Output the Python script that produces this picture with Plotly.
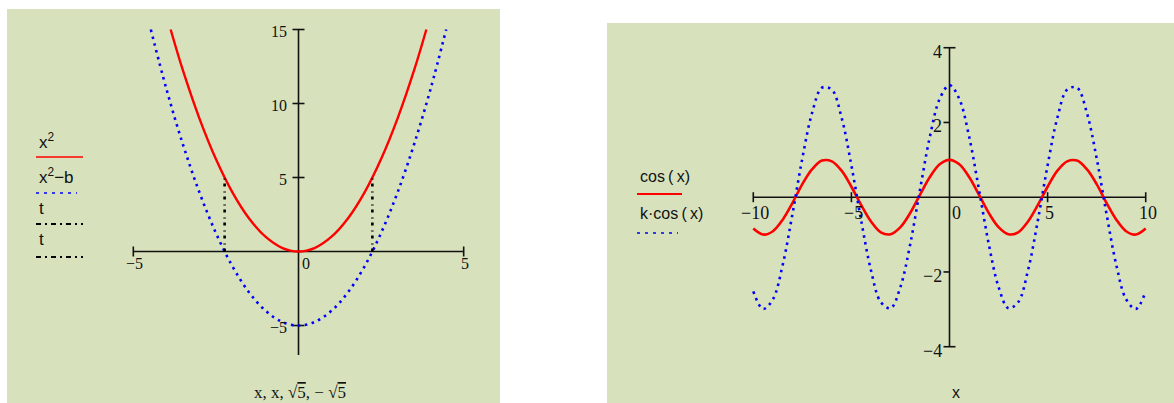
import plotly.graph_objects as go

# ---------------- data ----------------
# left panel: x^2, x^2 - b (b = 5), and two vertical markers at ±sqrt(5)
x_sq = [-3.87, -3.5, -3.0, -2.5, -2.0, -1.5, -1.0, -0.5, 0.0, 0.5, 1.0, 1.5, 2.0, 2.5, 3.0, 3.5, 3.87]
y_sq = [15.0, 12.25, 9.0, 6.25, 4.0, 2.25, 1.0, 0.25, 0.0, 0.25, 1.0, 2.25, 4.0, 6.25, 9.0, 12.25, 15.0]
x_sqb = [-4.47, -4.0, -3.5, -3.0, -2.5, -2.0, -1.5, -1.0, -0.5, 0.0, 0.5, 1.0, 1.5, 2.0, 2.5, 3.0, 3.5, 4.0, 4.47]
y_sqb = [15.0, 11.0, 7.25, 4.0, 1.25, -1.0, -2.75, -4.0, -4.75, -5.0, -4.75, -4.0, -2.75, -1.0, 1.25, 4.0, 7.25, 11.0, 15.0]
t_vals = [0.0, 5.0]
x_root_pos = [2.236, 2.236]
x_root_neg = [-2.236, -2.236]

left_xticks = [-5, 5]
left_xlabels = ["\u22125", "5"]
left_zero_label = "0"
left_yticks = [-5, 5, 10, 15]
left_ylabels = ["\u22125", "5", "10", "15"]
left_xaxis_span = [-5, 5]
left_yaxis_span = [-7, 15]

# right panel: cos(x) and k*cos(x) (k = 3)
x_cos = [-10.0, -9.5, -9.0, -8.5, -8.0, -7.5, -7.0, -6.5, -6.0, -5.5, -5.0, -4.5, -4.0, -3.5, -3.0, -2.5, -2.0,
         -1.5, -1.0, -0.5, 0.0, 0.5, 1.0, 1.5, 2.0, 2.5, 3.0, 3.5, 4.0, 4.5, 5.0, 5.5, 6.0, 6.5, 7.0, 7.5,
         8.0, 8.5, 9.0, 9.5, 10.0]
y_cos = [-0.84, -1.0, -0.91, -0.6, -0.15, 0.35, 0.75, 0.98, 0.96, 0.71, 0.28, -0.21, -0.65, -0.94, -0.99, -0.8, -0.42,
         0.07, 0.54, 0.88, 1.0, 0.88, 0.54, 0.07, -0.42, -0.8, -0.99, -0.94, -0.65, -0.21, 0.28, 0.71, 0.96, 0.98,
         0.75, 0.35, -0.15, -0.6, -0.91, -1.0, -0.84]
y_kcos = [-2.52, -2.99, -2.73, -1.81, -0.44, 1.04, 2.26, 2.93, 2.88, 2.13, 0.85, -0.63, -1.96, -2.81, -2.97, -2.4, -1.25,
          0.21, 1.62, 2.63, 3.0, 2.63, 1.62, 0.21, -1.25, -2.4, -2.97, -2.81, -1.96, -0.63, 0.85, 2.13, 2.88, 2.93,
          2.26, 1.04, -0.44, -1.81, -2.73, -2.99, -2.52]

right_xticks = [-10, -5, 5, 10]
right_xlabels = ["\u221210", "\u22125", "5", "10"]
right_zero_label = "0"
right_yticks = [-4, -2, 2, 4]
right_ylabels = ["\u22124", "\u22122", "2", "4"]
right_xaxis_span = [-10, 10]
right_yaxis_span = [-4, 4]

left_legend = ["x<sup>2</sup>", "x<sup>2</sup>\u2212b", "t", "t"]
right_legend = ["cos\u2009(\u2009x)", "k\u00b7cos\u2009(\u2009x)"]
left_title = "x, x, \u221a<span style='text-decoration:overline'>5</span>, \u2212 \u221a<span style='text-decoration:overline'>5</span>"
right_title = "x"

# ---------------- styling ----------------
W, H = 1174, 403
BG = "#d7e2bd"
RED = "#ff0000"
BLUE = "#0000ff"
INK = "#111111"
SERIF = "Liberation Serif"
SANS = "Liberation Sans"


def px(x):
    return x / W


def py(y):
    return 1 - y / H


fig = go.Figure()

# left panel curves
fig.add_trace(go.Scatter(x=x_sq, y=y_sq, mode="lines", line=dict(color=RED, width=2.4, shape="spline"),
                         xaxis="x", yaxis="y", showlegend=False))
fig.add_trace(go.Scatter(x=x_sqb, y=y_sqb, mode="lines",
                         line=dict(color=BLUE, width=2.6, dash="2.5px,4.5px", shape="spline"),
                         xaxis="x", yaxis="y", showlegend=False))
fig.add_trace(go.Scatter(x=x_root_pos, y=t_vals, mode="lines",
                         line=dict(color="black", width=2.6, dash="3px,4px,1px,5px"),
                         xaxis="x", yaxis="y", showlegend=False))
fig.add_trace(go.Scatter(x=x_root_neg, y=t_vals, mode="lines",
                         line=dict(color="black", width=2.6, dash="3px,4px,1px,5px"),
                         xaxis="x", yaxis="y", showlegend=False))

# right panel curves
fig.add_trace(go.Scatter(x=x_cos, y=y_cos, mode="lines", line=dict(color=RED, width=2.6, shape="spline"),
                         xaxis="x2", yaxis="y2", showlegend=False))
fig.add_trace(go.Scatter(x=x_cos, y=y_kcos, mode="lines",
                         line=dict(color=BLUE, width=2.6, dash="2.5px,4.5px", shape="spline"),
                         xaxis="x2", yaxis="y2", showlegend=False))

shapes = []
annotations = []


def add_axes(xr, yr, xspan, yspan, xticks, xlabels, yticks, ylabels, zero_label, tick_font,
             xlab_shift, xlab_yshift, ylab_xshift, ylab_yshift, zero_xshift, inner_left_only):
    # axis lines through the origin
    shapes.append(dict(type="line", xref=xr, yref=yr, x0=xspan[0], x1=xspan[1], y0=0, y1=0,
                       line=dict(color=INK, width=1.6), layer="below"))
    shapes.append(dict(type="line", xref=xr, yref=yr, x0=0, x1=0, y0=yspan[0], y1=yspan[1],
                       line=dict(color=INK, width=1.6), layer="below"))
    for v, lab in zip(xticks, xlabels):
        shapes.append(dict(type="line", xref=xr, yref=yr, ysizemode="pixel", yanchor=0, y0=-5, y1=5,
                           x0=v, x1=v, line=dict(color=INK, width=1.6), layer="below"))
        annotations.append(dict(xref=xr, yref=yr, x=v, y=0, text=lab, showarrow=False,
                                xanchor="center", yanchor="middle", xshift=xlab_shift, yshift=xlab_yshift,
                                font=dict(family=SERIF, size=tick_font, color=INK)))
    annotations.append(dict(xref=xr, yref=yr, x=0, y=0, text=zero_label, showarrow=False,
                            xanchor="center", yanchor="middle", xshift=zero_xshift, yshift=xlab_yshift,
                            font=dict(family=SERIF, size=tick_font, color=INK)))
    ends = (min(yticks), max(yticks))
    for v, lab in zip(yticks, ylabels):
        right = 0 if (inner_left_only and v not in ends) else 6
        shapes.append(dict(type="line", xref=xr, yref=yr, xsizemode="pixel", xanchor=0, x0=-6, x1=right,
                           y0=v, y1=v, line=dict(color=INK, width=1.6), layer="below"))
        annotations.append(dict(xref=xr, yref=yr, x=0, y=v, text=lab, showarrow=False,
                                xanchor="right", yanchor="middle", xshift=ylab_xshift, yshift=ylab_yshift,
                                font=dict(family=SERIF, size=tick_font, color=INK)))


add_axes("x", "y", left_xaxis_span, left_yaxis_span, left_xticks, left_xlabels, left_yticks, left_ylabels,
         left_zero_label, 16, 1, -12, -10, -2, 7, False)
add_axes("x2", "y2", right_xaxis_span, right_yaxis_span, right_xticks, right_xlabels, right_yticks,
         right_ylabels, right_zero_label, 18, 2, -16, -6, -4, 7, True)

# ---- legends (Mathcad style: label above a line sample) ----
left_leg_text_y = [141, 176, 208, 240]
left_leg_line_y = [157, 193, 224, 257]
left_leg_styles = [dict(color=RED, width=1.6), dict(color=BLUE, width=1.6, dash="3px,5px"),
                   dict(color="black", width=2.2, dash="5px,4px,2px,4px"),
                   dict(color="black", width=2.2, dash="5px,4px,2px,4px")]
left_leg_len = [47, 41, 47, 47]
for lab, ty, ly, st, ln in zip(left_legend, left_leg_text_y, left_leg_line_y, left_leg_styles, left_leg_len):
    annotations.append(dict(xref="paper", yref="paper", x=px(37), y=py(ty), text=lab, showarrow=False,
                            xanchor="left", yanchor="middle", font=dict(family=SANS, size=17, color=INK)))
    shapes.append(dict(type="line", xref="paper", yref="paper", x0=px(36), x1=px(36 + ln), y0=py(ly), y1=py(ly),
                       line=st))

right_leg_text_y = [176, 213]
right_leg_line_y = [194, 233]
right_leg_styles = [dict(color=RED, width=1.8), dict(color=BLUE, width=1.6, dash="3px,5px")]
right_leg_len = [45, 41]
for lab, ty, ly, st, ln in zip(right_legend, right_leg_text_y, right_leg_line_y, right_leg_styles, right_leg_len):
    annotations.append(dict(xref="paper", yref="paper", x=px(638), y=py(ty), text=lab, showarrow=False,
                            xanchor="left", yanchor="middle", font=dict(family=SANS, size=16, color=INK)))
    shapes.append(dict(type="line", xref="paper", yref="paper", x0=px(637), x1=px(637 + ln), y0=py(ly),
                       y1=py(ly), line=st))

# axis titles
annotations.append(dict(xref="paper", yref="paper", x=px(300), y=py(392), text=left_title, showarrow=False,
                        xanchor="center", yanchor="middle", font=dict(family=SERIF, size=17, color=INK)))
annotations.append(dict(xref="paper", yref="paper", x=px(956), y=py(392), text=right_title, showarrow=False,
                        xanchor="center", yanchor="middle", font=dict(family=SANS, size=16, color=INK)))

# ---- layout: subplot domains cover each green panel; ranges give the picture's scale ----
fig.update_layout(
    width=W, height=H,
    margin=dict(l=0, r=0, t=0, b=0),
    paper_bgcolor="white",
    plot_bgcolor=BG,
    showlegend=False,
    xaxis=dict(domain=[px(7), px(500)], range=[-8.823, 6.099], visible=False, fixedrange=True),
    yaxis=dict(domain=[0, py(9)], range=[-10.236, 16.385], visible=False, fixedrange=True),
    xaxis2=dict(domain=[px(607), 1], range=[-17.456, 11.442], visible=False, fixedrange=True, anchor="y2"),
    yaxis2=dict(domain=[0, py(23)], range=[-5.506, 4.661], visible=False, fixedrange=True, anchor="x2"),
    shapes=shapes,
    annotations=annotations,
)

fig.write_html("out.html", config={"displayModeBar": False},
               post_script="document.body.style.margin='0';document.body.style.overflow='hidden';")
